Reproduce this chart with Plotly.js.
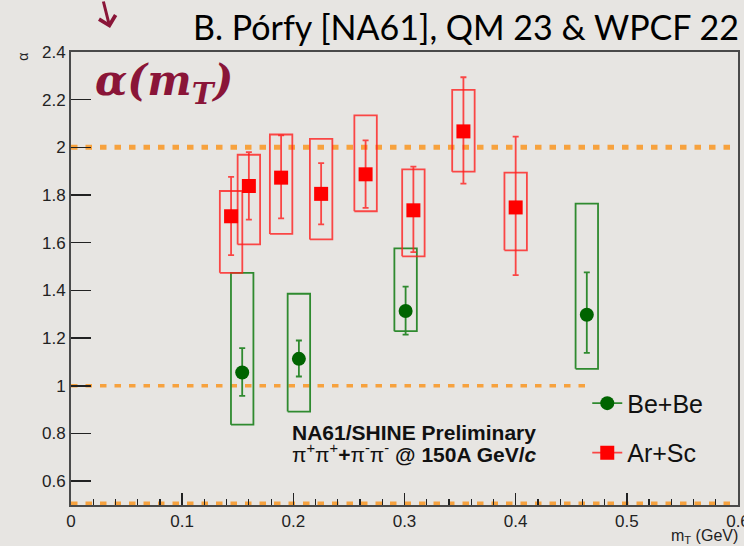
<!DOCTYPE html>
<html>
<head>
<meta charset="utf-8">
<script src="https://cdn.plot.ly/plotly-3.0.1.min.js"></script>
<style>html,body{margin:0;padding:0;background:#e7e5e2;}#chart{width:744px;height:546px;}</style>
</head>
<body>
<div id="chart"></div>
<script>
// ---- data ----
const mT_BeBe      = [0.154, 0.205, 0.301, 0.464];
const alpha_BeBe   = [1.056, 1.113, 1.314, 1.298];
const statHi_BeBe  = [1.158, 1.190, 1.416, 1.476];
const statLo_BeBe  = [0.958, 1.039, 1.215, 1.138];
const sysHi_BeBe   = [1.474, 1.386, 1.576, 1.764];
const sysLo_BeBe   = [0.837, 0.892, 1.229, 1.071];

const mT_ArSc      = [0.144, 0.160, 0.189, 0.225, 0.265, 0.308, 0.353, 0.400];
const alpha_ArSc   = [1.711, 1.838, 1.873, 1.805, 1.887, 1.736, 2.067, 1.748];
const statHi_ArSc  = [1.876, 1.980, 2.050, 1.934, 2.029, 1.919, 2.294, 2.045];
const statLo_ArSc  = [1.548, 1.697, 1.702, 1.677, 1.746, 1.561, 1.848, 1.464];
const sysHi_ArSc   = [1.817, 1.969, 2.054, 2.036, 2.134, 1.908, 2.241, 1.894];
const sysLo_ArSc   = [1.474, 1.593, 1.637, 1.614, 1.732, 1.543, 1.898, 1.568];

const refLevels    = [2, 1, 0.5];
const refEnds      = [0.6, 0.465, 0.6];

const xTickVals    = [0, 0.1, 0.2, 0.3, 0.4, 0.5, 0.6];
const xTickText    = ['0', '0.1', '0.2', '0.3', '0.4', '0.5', '0.6'];
const yTickVals    = [0.6, 0.8, 1, 1.2, 1.4, 1.6, 1.8, 2, 2.2, 2.4];
const yTickText    = ['0.6', '0.8', '1', '1.2', '1.4', '1.6', '1.8', '2', '2.2', '2.4'];

// ---- helpers ----
const boxHalf = 0.0101;
function boxes(xs, lo, hi) {
  const bx = [], by = [];
  xs.forEach((x, i) => {
    bx.push(x - boxHalf, x + boxHalf, x + boxHalf, x - boxHalf, x - boxHalf, null);
    by.push(lo[i], lo[i], hi[i], hi[i], lo[i], null);
  });
  return {bx, by};
}
const diff = (a, b) => a.map((v, i) => +(v - b[i]).toFixed(4));

const ORANGE = '#f7a23e';
const RED = '#ff0000', REDL = 'rgba(255,30,30,0.8)';
const GREEN = '#006400', GREENL = '#2f8a2f';

const traces = [];
// reference lines
const refWidths = [5, 3.5, 7];
refLevels.forEach((lv, i) => {
  traces.push({x: [0, refEnds[i]], y: [lv, lv], mode: 'lines', showlegend: false, hoverinfo: 'skip',
    line: {color: ORANGE, width: refWidths[i], dash: '6.5px,8px'}});
});
// systematic boxes
const bB = boxes(mT_BeBe, sysLo_BeBe, sysHi_BeBe);
traces.push({x: bB.bx, y: bB.by, mode: 'lines', showlegend: false, line: {color: GREENL, width: 1.8}, hoverinfo: 'skip'});
const bA = boxes(mT_ArSc, sysLo_ArSc, sysHi_ArSc);
traces.push({x: bA.bx, y: bA.by, mode: 'lines', showlegend: false, line: {color: REDL, width: 1.8}, hoverinfo: 'skip'});
// points with stat errors
traces.push({x: mT_BeBe, y: alpha_BeBe, mode: 'markers', showlegend: false,
  marker: {symbol: 'circle', size: 14, color: GREEN},
  error_y: {type: 'data', symmetric: false, array: diff(statHi_BeBe, alpha_BeBe), arrayminus: diff(alpha_BeBe, statLo_BeBe),
    color: GREENL, thickness: 1.8, width: 3}});
traces.push({x: mT_ArSc, y: alpha_ArSc, mode: 'markers', showlegend: false,
  marker: {symbol: 'square', size: 14, color: RED},
  error_y: {type: 'data', symmetric: false, array: diff(statHi_ArSc, alpha_ArSc), arrayminus: diff(alpha_ArSc, statLo_ArSc),
    color: REDL, thickness: 1.8, width: 3}});
// legend entries
traces.push({x: [null], y: [null], mode: 'lines+markers', name: 'Be+Be', legendgroup: 'a',
  marker: {symbol: 'circle', size: 14, color: GREEN}, line: {color: GREENL, width: 1.8}});
traces.push({x: [null], y: [null], mode: 'lines+markers', name: 'Ar+Sc', legendgroup: 'b',
  marker: {symbol: 'square', size: 14, color: RED}, line: {color: REDL, width: 1.8}});

const tickFont = {family: 'Liberation Sans, Arial, sans-serif', size: 17, color: '#222'};
const noteFont = {family: 'Liberation Sans, Arial, sans-serif', size: 21, color: '#111'};

const layout = {
  width: 744, height: 546,
  margin: {l: 71, r: 6, t: 52, b: 41, pad: 0},
  paper_bgcolor: '#e7e5e2', plot_bgcolor: '#e7e5e2',
  showlegend: true,
  legend: {x: 0.774, y: 0.275, xanchor: 'left', yanchor: 'top', bgcolor: 'rgba(0,0,0,0)',
    font: {family: 'Liberation Sans, Arial, sans-serif', size: 25, color: '#111'},
    tracegroupgap: 14, itemwidth: 30},
  xaxis: {range: [0, 0.6], tickvals: xTickVals, ticktext: xTickText, ticks: 'inside', ticklen: 12, tickwidth: 1.5,
    tickcolor: '#222', showgrid: false, zeroline: false, showline: true, linecolor: '#4a4a4a', linewidth: 2, mirror: true,
    tickfont: tickFont, ticklabeloverflow: 'allow',
    minor: {tickmode: 'linear', tick0: 0, dtick: 0.02, ticks: 'inside', ticklen: 6, tickwidth: 1.2, tickcolor: '#222', showgrid: false}},
  yaxis: {range: [0.5, 2.4], tickvals: yTickVals, ticktext: yTickText, ticks: 'inside', ticklen: 20, tickwidth: 1.5,
    tickcolor: '#222', showgrid: false, zeroline: false, showline: true, linecolor: '#4a4a4a', linewidth: 2, mirror: true,
    tickfont: tickFont},
  annotations: [
    {xref: 'paper', yref: 'paper', x: 1.004, y: 1.057, xanchor: 'right', yanchor: 'middle', showarrow: false,
      text: 'B. Pórfy [NA61], QM 23 &amp; WPCF 22', font: {family: 'Lato, sans-serif', size: 34, color: '#000'}},
    {xref: 'paper', yref: 'paper', x: 0.033, y: 0.995, xanchor: 'left', yanchor: 'top', showarrow: false,
      text: '<b><i>α(m<sub>T</sub>)</i></b>', font: {family: 'DejaVu Serif, serif', size: 42, color: '#8a1538'}},
    {xref: 'paper', yref: 'paper', x: 0.33, y: 0.161, xanchor: 'left', yanchor: 'middle', showarrow: false, borderpad: 0,
      text: '<b>NA61/SHINE Preliminary</b>', font: noteFont},
    {xref: 'paper', yref: 'paper', x: 0.33, y: 0.114, xanchor: 'left', yanchor: 'middle', showarrow: false, borderpad: 0,
      text: 'π<sup>+</sup>π<sup>+</sup><b>+</b>π<sup>-</sup>π<sup>-</sup> <b>@ 150A GeV/<i>c</i></b>', font: noteFont},
    {xref: 'paper', yref: 'paper', x: 1.003, y: -0.07, xanchor: 'right', yanchor: 'middle', showarrow: false,
      text: 'm<sub>T</sub> (GeV)', font: {family: 'Liberation Sans, Arial, sans-serif', size: 16, color: '#222'}},
    {xref: 'paper', yref: 'paper', x: -0.073, y: 0.99, xanchor: 'center', yanchor: 'middle', showarrow: false, textangle: -90,
      text: 'α', font: {family: 'Liberation Sans, Arial, sans-serif', size: 14, color: '#222'}},
    {xref: 'paper', yref: 'paper', x: 0.0585, y: 1.053, ax: -7, ay: -29, axref: 'pixel', ayref: 'pixel',
      showarrow: true, arrowhead: 4, arrowsize: 1.1, arrowwidth: 3, arrowcolor: '#8a1538', text: ''}
  ]
};

Plotly.newPlot('chart', traces, layout, {displayModeBar: false, staticPlot: true});
</script>
</body>
</html>
